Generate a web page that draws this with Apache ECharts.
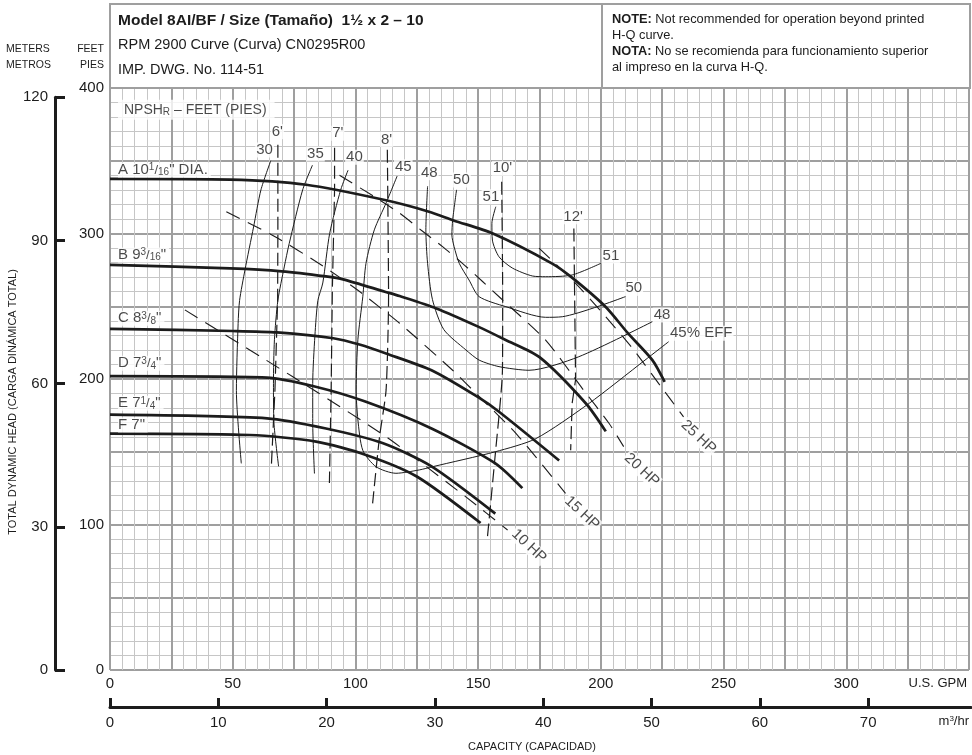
<!DOCTYPE html>
<html><head><meta charset="utf-8">
<script src="https://cdn.jsdelivr.net/npm/echarts@6/dist/echarts.min.js"></script>
<style>html,body{margin:0;padding:0;background:#fff}#c{width:972px;height:755px}</style>
</head><body><div id="c"></div>
<script>
const FONT = "'Liberation Sans', Arial, sans-serif";
const INK = '#1c1c1c';
const GPM_PER_M3H = 4.402868;

// Head-capacity curves: [US GPM, feet]
const curveA = [[0,337.5],[49,337],[80,333.5],[112,323],[130,315],[140,309],[156,300],[180,279.5],[188,270],[202,249.5],[211,231.5],[221,213],[226,198]];
const curveB = [[0,278.5],[49,276],[70,274],[88,270.5],[95,268.5],[112,260],[118,257],[133,248.5],[150,236],[161,227],[175,215],[194,183],[202,164]];
const curveC = [[0,234.5],[50,233],[68,232],[91,228],[102,223.5],[112.5,217.5],[131,206],[150,187.5],[158.5,177.5],[183,144]];
const curveD = [[0,202],[64,201],[83,195],[104,184.5],[131,166],[157,142],[168,125]];
const curveE = [[0,175.5],[64,173],[88,166],[111,156],[131,140],[157,107.5]];
const curveF = [[0,162.5],[57,161.5],[84,157],[104,148],[125,133],[151,101]];

// Efficiency iso-lines
const eff30 = [[65.5,350],[61.5,330],[58.5,304.5],[55,275],[52.8,254],[52.2,238],[51.5,192],[53.5,142]];
const eff35 = [[82.5,347],[78.5,330],[73,293],[71,277],[68.4,254],[67,227],[66.6,197],[66.8,170],[68.7,140]];
const eff40 = [[97,343.5],[94,330],[89.5,300],[86.7,266],[84.7,254],[83.5,230],[82.6,197],[82.6,170],[83.3,135]];
const eff45 = [[117,339.5],[112.5,321],[107.7,302.5],[104.3,279.5],[103,256.5],[101,227],[100.3,192.5],[101,172],[103,151],[108.4,139.7],[116.5,135.2],[126,137.5],[131.4,139.7],[157,150],[173.5,159],[195,183],[218,213],[227.6,225.6]];
const eff48 = [[129.4,332.5],[128.7,302.5],[129.4,279.5],[131.4,254.5],[136,234],[145,220],[150.4,213],[158.5,208.5],[170.7,206],[191,215.3],[221,239.4]];
const eff50 = [[141.2,330],[139.6,309],[139.3,299],[140.2,291],[142.3,279.5],[146.3,268],[150.4,256.6],[161.3,249.7],[177.5,242.4],[184.3,242.8],[210,256.6]];
const eff51 = [[157.2,318.4],[155.6,307],[155.8,295.5],[158.5,284],[163.9,276.3],[172.1,270.8],[177.5,270.3],[188.3,271.5],[200,279.5]];

// NPSHr lines
const npsh6 = [[68.4,361],[68.4,300],[68.3,254],[67.2,192],[65.7,138.5]];
const npsh7 = [[91.5,359],[91.5,330],[90.6,262],[90.1,192],[89.4,128.5]];
const npsh8 = [[113,357.5],[113.5,256.5],[112.5,192.5],[109.8,160],[107,114.5]];
const npsh10 = [[159.6,335.5],[160,256.5],[159.9,206],[156.8,145],[153.8,91.5]];
const npsh12 = [[189,303.5],[189.7,199.5],[188.3,183.3],[187.7,151]];

// Power lines
const hp10 = [[30.5,247.5],[74.5,201.5],[112.5,160.3],[145,119],[162,96.2]];
const hp15 = [[47.4,315],[67.1,298],[86.1,278.4],[101,261],[118,238.3],[139.6,206],[150.4,188],[166,161.5],[185.6,121.4]];
const hp20 = [[93.5,340],[107.7,325.3],[118,314],[126.7,302.4],[135.5,291],[143.6,279.5],[151.8,267],[159.2,255.5],[177.5,226.8],[192.4,193.6],[203.3,169.6],[209.3,153.5]];
const hp25 = [[174.8,290],[189.7,265.8],[202,242.8],[213.4,220],[225,193.6],[233.7,174]];

// Text annotations: [text, GPM, feet]
const diameterLabels = [
  ['A 10{u|1}{f|/}{d|16}" DIA.', 3.25, 343.6],
  ['B 9{u|3}{f|/}{d|16}"', 3.25, 285.2],
  ['C 8{u|3}{f|/}{d|8}"', 3.25, 241.7],
  ['D 7{u|3}{f|/}{d|4}"', 3.25, 210.8],
  ['E 7{u|1}{f|/}{d|4}"', 3.25, 183.3],
  ['F 7"', 3.25, 168.4]
];
const npshTitle = [['NPSH{d|R} – FEET (PIES)', 3.25, 385]];
const effLabels = [['30',63,357.4],['35',83.7,354.6],['40',99.6,352.4],['45',119.5,345.9],['48',130.1,341.8],['50',143.2,336.8],['51',155.2,325.3],['51',204.1,284.5],['50',213.4,262.3],['48',224.9,244],['45% EFF',240.9,231.4]];
const npshLabels = [["6'",68.2,370],["7'",92.8,368.9],["8'",112.7,364.7],["10'",159.9,344.8],["12'",188.7,311.5]];
const hpLabels = [['10 HP',170.7,85.2],['15 HP',192.3,107.9],['20 HP',216.7,137.5],['25 HP',239.8,160.1]];

const gpmTicks = [0,50,100,150,200,250,300];
const feetTicks = [0,100,200,300,400];
const meterTicks = [0,30,60,90,120];
const m3hTicks = [0,10,20,30,40,50,60,70];

const chart = echarts.init(document.getElementById('c'));

function line(data, style, smooth) {
  return {type:'line', data, symbol:'none', showSymbol:false, silent:true, animation:false,
    smooth: smooth === undefined ? 0.25 : smooth, lineStyle: Object.assign({color:INK}, style), z:3};
}
const rich = {
  u:{fontSize:10, verticalAlign:'top', fontFamily:FONT, color:INK, lineHeight:10},
  d:{fontSize:10, verticalAlign:'bottom', fontFamily:FONT, color:INK, lineHeight:10},
  f:{fontSize:13, fontFamily:FONT, color:INK}
};
function labels(items, opt) {
  return {type:'scatter', symbolSize:0, silent:true, animation:false, z:10,
    data: items.map(it => ({value:[it[1], it[2]], name: it[0]})),
    label: Object.assign({show:true, formatter:'{b}', color:INK, fontFamily:FONT, fontSize:15,
      position:'inside', backgroundColor:'#fff', padding:[0,1], rich}, opt)};
}

const HQ = {width:2.7};
const EFF = {width:1};
const NP = {width:1.2, type:[13,5]};
const HP = {width:1.1, type:[15,9]};

const series = [
  line(eff30, EFF), line(eff35, EFF), line(eff40, EFF), line(eff45, EFF), line(eff48, EFF), line(eff50, EFF), line(eff51, EFF),
  line(npsh6, NP, 0), line(npsh7, NP, 0), line(npsh8, NP, 0.2), line(npsh10, NP, 0.2), line(npsh12, NP, 0),
  line(hp10, HP, 0.2), line(hp15, HP, 0.2), line(hp20, HP, 0.2), line(hp25, HP, 0.2),
  line(curveA, HQ), line(curveB, HQ), line(curveC, HQ), line(curveD, HQ), line(curveE, HQ), line(curveF, HQ),
  labels(diameterLabels, {position:'right', distance:0, fontSize:15, padding:[0,3,0,0]}),
  labels(npshTitle, {position:'right', distance:0, fontSize:14, padding:[3,8,3,6]}),
  labels(effLabels, {}),
  labels(npshLabels, {}),
  labels(hpLabels, {rotate:-43, fontSize:15})
];

const option = {
  animation:false,
  backgroundColor:'#fff',
  textStyle:{fontFamily:FONT},
  grid:[
    {left:110, right:1, top:88, bottom:85},
    {left:55, width:1, top:97.2, bottom:85},
    {left:110, right:1, top:700, bottom:48}
  ],
  xAxis:[
    {gridIndex:0, type:'value', min:0, max:350, interval:25,
     axisLine:{show:false}, axisTick:{show:false},
     axisLabel:{color:INK, fontSize:15, margin:6, fontFamily:FONT,
       formatter:v => gpmTicks.includes(v) ? String(v) : ''},
     splitLine:{show:true, lineStyle:{color:'#9f9f9f', width:2}},
     minorTick:{show:false, splitNumber:5},
     minorSplitLine:{show:true, lineStyle:{color:'#c6c6c6', width:1}},
     name:'U.S. GPM', nameLocation:'end', nameGap:-2,
     nameTextStyle:{color:INK, fontSize:13, fontFamily:FONT, align:'right', verticalAlign:'top', padding:[7,0,0,0]}},
    {gridIndex:1, type:'value', min:0, max:1, show:false},
    {gridIndex:2, type:'value', min:0, max:350/GPM_PER_M3H, interval:10,
     axisLine:{show:true, onZero:false, lineStyle:{color:INK, width:3}},
     axisTick:{show:true, inside:true, length:9, customValues:m3hTicks, lineStyle:{color:INK, width:3}},
     axisLabel:{color:INK, fontSize:15, margin:8, fontFamily:FONT, customValues:m3hTicks},
     splitLine:{show:false},
     name:'m{u|3}/hr', nameLocation:'end', nameGap:-2,
     nameTextStyle:{color:INK, fontSize:13, fontFamily:FONT, align:'right', verticalAlign:'top', padding:[8,0,0,0],
       rich:{u:{fontSize:8, verticalAlign:'top', color:INK, fontFamily:FONT, lineHeight:8}}}}
  ],
  yAxis:[
    {gridIndex:0, type:'value', min:0, max:400, interval:50,
     axisLine:{show:false}, axisTick:{show:false},
     axisLabel:{color:INK, fontSize:15, margin:6, fontFamily:FONT,
       formatter:v => feetTicks.includes(v) ? String(v) : ''},
     splitLine:{show:true, lineStyle:{color:'#9f9f9f', width:2}},
     minorTick:{show:false, splitNumber:5},
     minorSplitLine:{show:true, lineStyle:{color:'#c6c6c6', width:1}}},
    {gridIndex:1, type:'value', min:0, max:120, interval:30, position:'left',
     axisLine:{show:true, onZero:false, lineStyle:{color:INK, width:3}},
     axisTick:{show:true, inside:true, length:10, lineStyle:{color:INK, width:3}},
     axisLabel:{color:INK, fontSize:15, margin:7, fontFamily:FONT,
       formatter:v => meterTicks.includes(v) ? String(v) : ''},
     splitLine:{show:false}},
    {gridIndex:2, type:'value', min:0, max:1, show:false}
  ],
  graphic:[
    {type:'rect', shape:{x:110, y:4, width:860, height:84}, style:{fill:'none', stroke:'#9f9f9f', lineWidth:2}, z:1},
    {type:'line', shape:{x1:602, y1:4, x2:602, y2:88}, style:{stroke:'#9f9f9f', lineWidth:2}, z:1},
    {type:'text', x:118, y:21, style:{text:'Model 8AI/BF / Size (Tamaño)  1½ x 2 – 10', font:"bold 15.5px 'Liberation Sans', Arial, sans-serif", fill:INK, verticalAlign:'middle'}},
    {type:'text', x:118, y:45, style:{text:'RPM 2900 Curve (Curva) CN0295R00', font:"14.5px 'Liberation Sans', Arial, sans-serif", fill:INK, verticalAlign:'middle'}},
    {type:'text', x:118, y:70, style:{text:'IMP. DWG. No. 114-51', font:"14.5px 'Liberation Sans', Arial, sans-serif", fill:INK, verticalAlign:'middle'}},
    {type:'text', x:612, y:19, style:{text:'{b|NOTE:} Not recommended for operation beyond printed', font:"12.8px 'Liberation Sans', Arial, sans-serif", fill:INK, verticalAlign:'middle', rich:{b:{fontWeight:'bold', fontSize:12.8, fontFamily:FONT, fill:INK}}}},
    {type:'text', x:612, y:35, style:{text:'H-Q curve.', font:"12.8px 'Liberation Sans', Arial, sans-serif", fill:INK, verticalAlign:'middle'}},
    {type:'text', x:612, y:51, style:{text:'{b|NOTA:} No se recomienda para funcionamiento superior', font:"12.8px 'Liberation Sans', Arial, sans-serif", fill:INK, verticalAlign:'middle', rich:{b:{fontWeight:'bold', fontSize:12.8, fontFamily:FONT, fill:INK}}}},
    {type:'text', x:612, y:67, style:{text:'al impreso en la curva H-Q.', font:"12.8px 'Liberation Sans', Arial, sans-serif", fill:INK, verticalAlign:'middle'}},
    {type:'text', x:6, y:49, style:{text:'METERS', font:"10.5px 'Liberation Sans', Arial, sans-serif", fill:INK, verticalAlign:'middle'}},
    {type:'text', x:6, y:65, style:{text:'METROS', font:"10.5px 'Liberation Sans', Arial, sans-serif", fill:INK, verticalAlign:'middle'}},
    {type:'text', x:104, y:49, style:{text:'FEET', font:"10.5px 'Liberation Sans', Arial, sans-serif", fill:INK, align:'right', verticalAlign:'middle'}},
    {type:'text', x:104, y:65, style:{text:'PIES', font:"10.5px 'Liberation Sans', Arial, sans-serif", fill:INK, align:'right', verticalAlign:'middle'}},
    {type:'text', x:13, y:402, rotation:Math.PI/2, style:{text:'TOTAL DYNAMIC HEAD (CARGA DINÁMICA TOTAL)', font:"11px 'Liberation Sans', Arial, sans-serif", fill:INK, align:'center', verticalAlign:'middle'}},
    {type:'text', x:532, y:747, style:{text:'CAPACITY (CAPACIDAD)', font:"11px 'Liberation Sans', Arial, sans-serif", fill:INK, align:'center', verticalAlign:'middle'}}
  ],
  series
};
chart.setOption(option);
</script>
</body></html>
